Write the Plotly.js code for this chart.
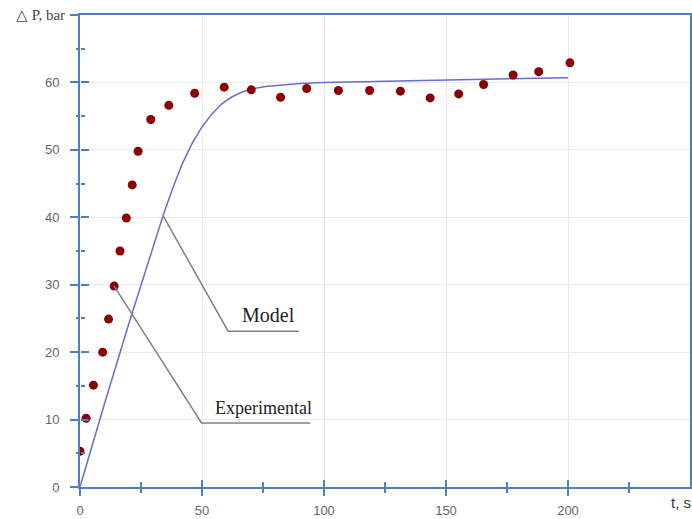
<!DOCTYPE html>
<html>
<head>
<meta charset="utf-8">
<script src="https://cdn.plot.ly/plotly-3.0.1.min.js"></script>
<style>html,body{margin:0;padding:0;background:#fff;}#chart{width:692px;height:519px;}</style>
</head>
<body>
<div id="chart"></div>
<script>
// Experimental points
var expT = [0, 2.5, 5.5, 9.3, 11.7, 14, 16.4, 19.0, 21.4, 23.8, 29, 36.4, 47, 59.1, 70.2, 82.2, 92.9, 105.9, 118.7, 131.3, 143.5, 155.2, 165.4, 177.5, 188, 200.8];
var expP = [5.3, 10.2, 15.1, 20, 24.9, 29.8, 35.0, 39.9, 44.8, 49.8, 54.5, 56.6, 58.4, 59.3, 58.9, 57.8, 59.1, 58.8, 58.8, 58.7, 57.7, 58.3, 59.7, 61.1, 61.6, 62.9];
// Model curve
var modelT = [0, 10, 20, 30, 34, 38, 42, 46, 50, 54, 58, 62, 66, 70, 76, 82, 90, 100, 125, 150, 175, 200];
var modelP = [0, 12.3, 24.2, 35.7, 40.2, 44.3, 48.0, 51.0, 53.4, 55.3, 56.8, 57.8, 58.5, 59.0, 59.4, 59.6, 59.85, 60.0, 60.15, 60.3, 60.5, 60.7];
// Ticks
var xTickVals = [0, 50, 100, 150, 200];
var xTickText = ['0', '50', '100', '150', '200'];
var xMinorVals = [25, 75, 125, 175, 225];
var yTickVals = [0, 10, 20, 30, 40, 50, 60, 70];
var yTickText = ['0', '10', '20', '30', '40', '50', '60', ''];
var yMinorVals = [5, 15, 25, 35, 45, 55, 65];

var axisBlue = '#4f7fbf';
var gridCol = '#ebebeb';
var X_RANGE = [0, 250], Y_RANGE = [0, 70];

var traces = [
  {x: modelT, y: modelP, type: 'scatter', mode: 'lines', name: 'Model',
   line: {color: '#6b6bcf', width: 1.5}, hoverinfo: 'skip'},
  {x: expT, y: expP, xaxis: 'x2', yaxis: 'y2', type: 'scatter', mode: 'markers', name: 'Experimental',
   marker: {color: '#8b0000', size: 9}},
  {x: [], y: [], xaxis: 'x3', yaxis: 'y3', type: 'scatter', mode: 'markers', showlegend: false},
  {x: [], y: [], xaxis: 'x4', yaxis: 'y4', type: 'scatter', mode: 'markers', showlegend: false}
];

var tickFont = {family: 'Liberation Sans, Arial, sans-serif', size: 13, color: '#666'};

function tickAxis(ov, side, range, vals, dir, len) {
  return {
    overlaying: ov, anchor: 'free', position: 0, side: side, range: range,
    tickmode: 'array', tickvals: vals, ticks: dir, ticklen: len, tickwidth: 2, tickcolor: axisBlue,
    showticklabels: false, showgrid: false, showline: false, zeroline: false
  };
}

var layout = {
  width: 692, height: 519,
  margin: {l: 80, r: 2, t: 15, b: 32},
  paper_bgcolor: '#fff', plot_bgcolor: '#fff',
  showlegend: false,
  xaxis: {
    range: X_RANGE, tickmode: 'array', tickvals: xTickVals, ticktext: xTickText,
    ticks: 'outside', ticklen: 7, tickwidth: 2, tickcolor: axisBlue,
    showgrid: true, gridcolor: gridCol, gridwidth: 1,
    showline: true, linecolor: axisBlue, linewidth: 2, mirror: true,
    zeroline: false, tickfont: tickFont, ticklabelstandoff: 3
  },
  yaxis: {
    range: Y_RANGE, tickmode: 'array', tickvals: yTickVals, ticktext: yTickText,
    ticks: 'outside', ticklen: 8, tickwidth: 2, tickcolor: axisBlue,
    showgrid: true, gridcolor: gridCol, gridwidth: 1,
    showline: true, linecolor: axisBlue, linewidth: 2, mirror: true,
    zeroline: false, tickfont: tickFont, ticklabelstandoff: 8
  },
  xaxis2: tickAxis('x', 'bottom', X_RANGE, xTickVals, 'inside', 7),
  yaxis2: tickAxis('y', 'left', Y_RANGE, yTickVals, 'inside', 8),
  xaxis3: tickAxis('x', 'bottom', X_RANGE, xMinorVals, 'outside', 5),
  yaxis3: tickAxis('y', 'left', Y_RANGE, yMinorVals, 'outside', 4),
  xaxis4: tickAxis('x', 'bottom', X_RANGE, xMinorVals, 'inside', 5),
  yaxis4: tickAxis('y', 'left', Y_RANGE, yMinorVals, 'inside', 4),
  shapes: [
    {type: 'path', xref: 'x', yref: 'y', path: 'M 34.1,40.2 L 60.7,23.1 L 89.7,23.1',
     line: {color: '#808080', width: 1.5}},
    {type: 'path', xref: 'x', yref: 'y', path: 'M 14,29.8 L 49.8,9.5 L 94.4,9.5',
     line: {color: '#808080', width: 1.5}}
  ],
  annotations: [
    {xref: 'x', yref: 'y', x: 77.3, y: 23.6, xanchor: 'center', yanchor: 'bottom', showarrow: false,
     text: 'Model', font: {family: 'Liberation Serif, Times New Roman, serif', size: 20, color: '#222'}},
    {xref: 'x', yref: 'y', x: 75, y: 9.9, xanchor: 'center', yanchor: 'bottom', showarrow: false,
     text: 'Experimental', font: {family: 'Liberation Serif, Times New Roman, serif', size: 18, color: '#222'}},
    {xref: 'paper', yref: 'paper', x: 0, y: 1, xanchor: 'right', yanchor: 'middle', xshift: -13, showarrow: false,
     text: '\u25B3 P, bar', font: {family: 'Liberation Serif, Times New Roman, serif', size: 15, color: '#444'}},
    {xref: 'paper', yref: 'paper', x: 1, y: 0, xanchor: 'right', yanchor: 'top', xshift: 3, yshift: -5, showarrow: false,
     text: 't, s', font: {family: 'Liberation Sans, Arial, sans-serif', size: 15, color: '#333'}}
  ]
};

Plotly.newPlot('chart', traces, layout, {displayModeBar: false, staticPlot: true});
</script>
</body>
</html>
